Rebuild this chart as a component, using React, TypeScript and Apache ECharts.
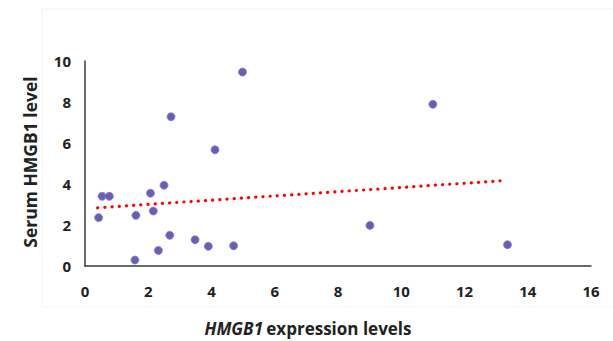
import React, { useEffect, useRef } from "react";
import * as echarts from "echarts";

const expressionX = [0.43, 0.54, 0.77, 1.58, 1.61, 2.07, 2.16, 2.32, 2.5, 2.68, 2.72, 3.48, 3.9, 4.11, 4.7, 4.98, 9.01, 11.0, 13.36];
const serumY = [2.36, 3.4, 3.4, 0.29, 2.47, 3.55, 2.68, 0.76, 3.94, 1.5, 7.28, 1.28, 0.96, 5.67, 0.99, 9.46, 1.98, 7.89, 1.04];
const trendX = [0.4, 13.2];
const trendY = [2.84, 4.16];
const xTicks = [0, 2, 4, 6, 8, 10, 12, 14, 16];
const yTicks = [0, 2, 4, 6, 8, 10];

export default function App() {
  const ref = useRef<HTMLDivElement>(null);
  useEffect(() => {
    if (!ref.current) return;
    const chart = echarts.init(ref.current, null, { renderer: "svg" });
    const font = "'Open Sans', sans-serif";
    chart.setOption({
      animation: false,
      backgroundColor: "#ffffff",
      grid: { left: 85, right: 22, top: 61, bottom: 75 },
      graphic: [
        {
          type: "rect",
          shape: { x: 42, y: 9, width: 580, height: 298 },
          style: { fill: "none", stroke: "#f4f4f4", lineWidth: 1 },
          silent: true,
          z: -1,
        },
        {
          type: "text",
          x: 308,
          y: 328,
          style: {
            text: "{i|HMGB1} {b|expression levels}",
            align: "center",
            verticalAlign: "middle",
            rich: {
              i: { fontFamily: font, fontSize: 17, fontWeight: "bold", fontStyle: "italic", fill: "#222" },
              b: { fontFamily: font, fontSize: 17, fontWeight: "bold", fill: "#222" },
            },
          },
        },
        {
          type: "text",
          x: 30,
          y: 162,
          rotation: Math.PI / 2,
          style: {
            text: "Serum HMGB1 level",
            align: "center",
            verticalAlign: "middle",
            fontFamily: font,
            fontSize: 17.5,
            fontWeight: "bold",
            fill: "#222",
          },
        },
      ],
      xAxis: {
        type: "value",
        min: xTicks[0],
        max: xTicks[xTicks.length - 1],
        interval: 2,
        axisLine: { show: true, onZero: false, lineStyle: { color: "#3a3a3a", width: 1.5 } },
        axisTick: { show: false },
        splitLine: { show: false },
        axisLabel: { fontFamily: font, fontSize: 15, fontWeight: "bold", color: "#222", margin: 17 },
      },
      yAxis: {
        type: "value",
        min: yTicks[0],
        max: yTicks[yTicks.length - 1],
        interval: 2,
        axisLine: { show: true, onZero: false, lineStyle: { color: "#3a3a3a", width: 1.5 } },
        axisTick: { show: false },
        splitLine: { show: false },
        axisLabel: { fontFamily: font, fontSize: 15, fontWeight: "bold", color: "#222", margin: 14 },
      },
      series: [
        {
          type: "line",
          data: trendX.map((x, i) => [x, trendY[i]]),
          symbol: "none",
          lineStyle: { color: "#ff0000", width: 3.2, type: [0.1, 7.1], cap: "round" },
          z: 1,
        },
        {
          type: "scatter",
          data: expressionX.map((x, i) => [x, serumY[i]]),
          symbolSize: 8,
          itemStyle: { color: "#4a339e", borderColor: "#6f85da", borderWidth: 1 },
          z: 2,
        },
      ],
    });
    return () => chart.dispose();
  }, []);
  return <div ref={ref} style={{ width: 613, height: 341, position: "absolute", left: 0, top: 0 }} />;
}
